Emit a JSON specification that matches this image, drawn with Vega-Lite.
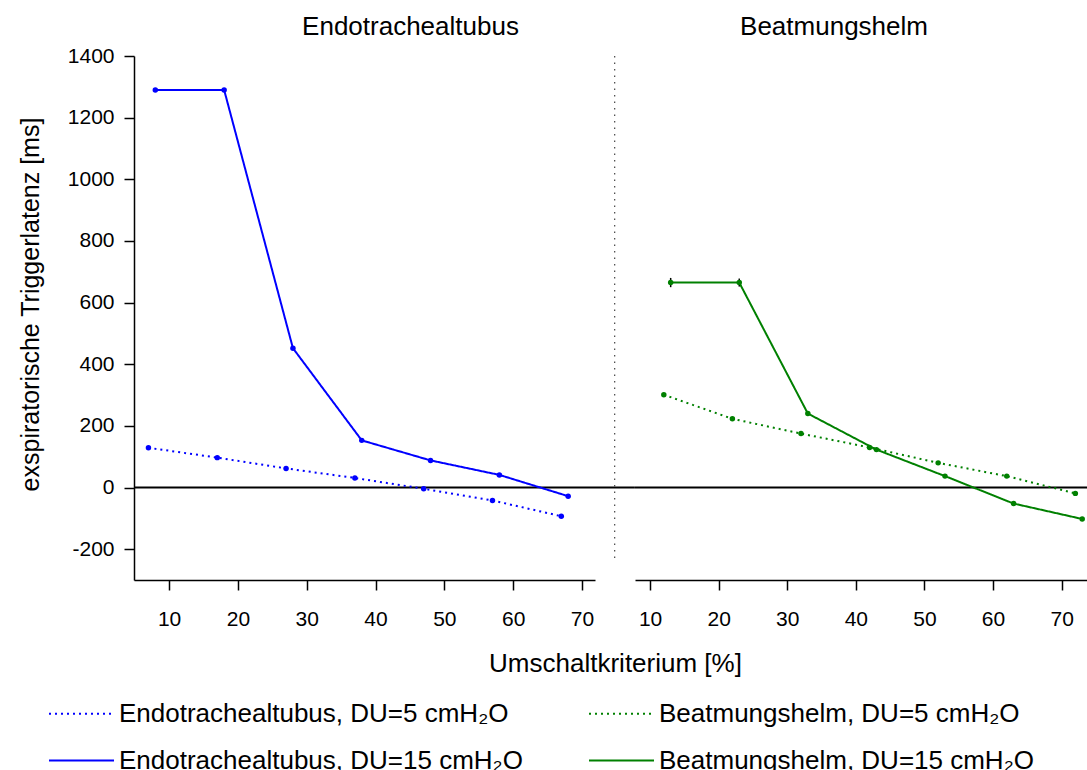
{
  "$schema": "https://vega.github.io/schema/vega-lite/v6.json",
  "background": "white",
  "padding": {"left": 17, "top": 14, "right": 0, "bottom": 0},
  "autosize": {"type": "pad"},
  "bounds": "flush",
  "spacing": 40,
  "resolve": {"scale": {"color": "shared", "strokeDash": "shared"}, "legend": {"color": "shared", "strokeDash": "shared"}},
  "config": {
    "view": {"stroke": null},
    "font": "Liberation Sans",
    "axis": {
      "grid": false,
      "domainColor": "black",
      "domainWidth": 1.5,
      "tickColor": "black",
      "tickWidth": 1.5,
      "tickSize": 10,
      "labelFont": "Liberation Sans",
      "labelFontSize": 21,
      "labelColor": "black",
      "titleFont": "Liberation Sans",
      "titleFontSize": 26,
      "titleFontWeight": "normal",
      "titleColor": "black"
    },
    "title": {"font": "Liberation Sans", "fontSize": 26, "fontWeight": "normal", "color": "black", "anchor": "middle"},
    "legend": {"labelFont": "Liberation Sans", "labelFontSize": 26, "labelColor": "black", "labelLimit": 700}
  },
  "data": {
    "values": [
      {"tube": "Endotrachealtubus", "DU": "15", "series": "Endotrachealtubus, DU=15 cmH₂O", "x": 8, "y": 1290},
      {"tube": "Endotrachealtubus", "DU": "15", "series": "Endotrachealtubus, DU=15 cmH₂O", "x": 18, "y": 1290},
      {"tube": "Endotrachealtubus", "DU": "15", "series": "Endotrachealtubus, DU=15 cmH₂O", "x": 28, "y": 452},
      {"tube": "Endotrachealtubus", "DU": "15", "series": "Endotrachealtubus, DU=15 cmH₂O", "x": 38, "y": 153},
      {"tube": "Endotrachealtubus", "DU": "15", "series": "Endotrachealtubus, DU=15 cmH₂O", "x": 48, "y": 88},
      {"tube": "Endotrachealtubus", "DU": "15", "series": "Endotrachealtubus, DU=15 cmH₂O", "x": 58, "y": 41},
      {"tube": "Endotrachealtubus", "DU": "15", "series": "Endotrachealtubus, DU=15 cmH₂O", "x": 68, "y": -28},
      {"tube": "Endotrachealtubus", "DU": "5", "series": "Endotrachealtubus, DU=5 cmH₂O", "x": 7, "y": 129},
      {"tube": "Endotrachealtubus", "DU": "5", "series": "Endotrachealtubus, DU=5 cmH₂O", "x": 17, "y": 97},
      {"tube": "Endotrachealtubus", "DU": "5", "series": "Endotrachealtubus, DU=5 cmH₂O", "x": 27, "y": 62},
      {"tube": "Endotrachealtubus", "DU": "5", "series": "Endotrachealtubus, DU=5 cmH₂O", "x": 37, "y": 31},
      {"tube": "Endotrachealtubus", "DU": "5", "series": "Endotrachealtubus, DU=5 cmH₂O", "x": 47, "y": -4},
      {"tube": "Endotrachealtubus", "DU": "5", "series": "Endotrachealtubus, DU=5 cmH₂O", "x": 57, "y": -42},
      {"tube": "Endotrachealtubus", "DU": "5", "series": "Endotrachealtubus, DU=5 cmH₂O", "x": 67, "y": -93},
      {"tube": "Beatmungshelm", "DU": "15", "series": "Beatmungshelm, DU=15 cmH₂O", "x": 13, "y": 665, "lo": 650, "hi": 680},
      {"tube": "Beatmungshelm", "DU": "15", "series": "Beatmungshelm, DU=15 cmH₂O", "x": 23, "y": 665, "lo": 652, "hi": 678},
      {"tube": "Beatmungshelm", "DU": "15", "series": "Beatmungshelm, DU=15 cmH₂O", "x": 33, "y": 240},
      {"tube": "Beatmungshelm", "DU": "15", "series": "Beatmungshelm, DU=15 cmH₂O", "x": 43, "y": 123},
      {"tube": "Beatmungshelm", "DU": "15", "series": "Beatmungshelm, DU=15 cmH₂O", "x": 53, "y": 37},
      {"tube": "Beatmungshelm", "DU": "15", "series": "Beatmungshelm, DU=15 cmH₂O", "x": 63, "y": -52},
      {"tube": "Beatmungshelm", "DU": "15", "series": "Beatmungshelm, DU=15 cmH₂O", "x": 73, "y": -102},
      {"tube": "Beatmungshelm", "DU": "5", "series": "Beatmungshelm, DU=5 cmH₂O", "x": 12, "y": 301},
      {"tube": "Beatmungshelm", "DU": "5", "series": "Beatmungshelm, DU=5 cmH₂O", "x": 22, "y": 223},
      {"tube": "Beatmungshelm", "DU": "5", "series": "Beatmungshelm, DU=5 cmH₂O", "x": 32, "y": 175},
      {"tube": "Beatmungshelm", "DU": "5", "series": "Beatmungshelm, DU=5 cmH₂O", "x": 42, "y": 130},
      {"tube": "Beatmungshelm", "DU": "5", "series": "Beatmungshelm, DU=5 cmH₂O", "x": 52, "y": 80},
      {"tube": "Beatmungshelm", "DU": "5", "series": "Beatmungshelm, DU=5 cmH₂O", "x": 62, "y": 37},
      {"tube": "Beatmungshelm", "DU": "5", "series": "Beatmungshelm, DU=5 cmH₂O", "x": 72, "y": -19}
    ]
  },
  "hconcat": [
    {
      "width": 461,
      "height": 524,
      "title": {"text": "Endotrachealtubus", "dx": 46, "offset": 5},
      "layer": [
        {
          "data": {"values": [{"zero": 0, "from": 4.9, "to": 77.7}]},
          "mark": {"type": "rule", "color": "black", "strokeWidth": 2},
          "encoding": {
            "x": {"field": "from", "type": "quantitative"},
            "x2": {"field": "to"},
            "y": {"field": "zero", "type": "quantitative"}
          }
        },
        {
          "data": {"values": [{"sep": 74.76, "top": 1400, "bottom": -235}]},
          "mark": {"type": "rule", "color": "#444444", "strokeWidth": 1.2, "strokeDash": [1.5, 5]},
          "encoding": {
            "x": {"field": "sep", "type": "quantitative"},
            "y": {"field": "top", "type": "quantitative"},
            "y2": {"field": "bottom"}
          }
        },
        {
          "transform": [{"filter": "datum.tube === 'Endotrachealtubus'"}],
          "mark": {"type": "line", "strokeWidth": 2},
          "encoding": {
            "x": {
              "field": "x", "type": "quantitative",
              "scale": {"domain": [4.9, 71.9], "nice": false, "zero": false},
              "axis": {
                "values": [10, 20, 30, 40, 50, 60, 70],
                "labelExpr": "'' + datum.value",
                "title": "Umschaltkriterium [%]",
                "titleX": 481,
                "titleY": 83,
                "titleAlign": "center",
                "titleBaseline": "middle",
                "labelPadding": 18
              }
            },
            "y": {
              "field": "y", "type": "quantitative",
              "scale": {"domain": [-300, 1400], "nice": false, "zero": false},
              "axis": {
                "values": [-200, 0, 200, 400, 600, 800, 1000, 1200, 1400],
                "labelExpr": "'' + datum.value",
                "title": "exspiratorische Triggerlatenz [ms]",
                "titleFontSize": 25,
                "titleAngle": -90,
                "titleX": -104,
                "titleY": 248,
                "titleAlign": "center",
                "titleBaseline": "middle",
                "labelPadding": 10
              }
            },
            "color": {
              "field": "series", "type": "nominal",
              "scale": {
                "domain": ["Endotrachealtubus, DU=5 cmH₂O", "Endotrachealtubus, DU=15 cmH₂O", "Beatmungshelm, DU=5 cmH₂O", "Beatmungshelm, DU=15 cmH₂O"],
                "range": ["#0000ff", "#0000ff", "#008000", "#008000"]
              },
              "legend": {
                "title": null,
                "orient": "none",
                "legendX": -86,
                "legendY": 624,
                "columns": 2,
                "symbolType": "stroke",
                "symbolSize": 4225,
                "symbolStrokeWidth": 2,
                "labelOffset": 4,
                "columnPadding": 62,
                "rowPadding": -8
              }
            },
            "strokeDash": {
              "field": "series", "type": "nominal",
              "scale": {
                "domain": ["Endotrachealtubus, DU=5 cmH₂O", "Endotrachealtubus, DU=15 cmH₂O", "Beatmungshelm, DU=5 cmH₂O", "Beatmungshelm, DU=15 cmH₂O"],
                "range": [[2, 4], [1, 0], [2, 4], [1, 0]]
              },
              "legend": {
                "title": null,
                "orient": "none",
                "legendX": -86,
                "legendY": 624,
                "columns": 2,
                "symbolType": "stroke",
                "symbolSize": 4225,
                "symbolStrokeWidth": 2,
                "labelOffset": 4,
                "columnPadding": 62,
                "rowPadding": -8
              }
            }
          }
        },
        {
          "transform": [{"filter": "datum.tube === 'Endotrachealtubus'"}],
          "mark": {"type": "point", "filled": true, "size": 30, "opacity": 1},
          "encoding": {
            "x": {"field": "x", "type": "quantitative"},
            "y": {"field": "y", "type": "quantitative"},
            "color": {"field": "series", "type": "nominal"}
          }
        }
      ]
    },
    {
      "width": 452,
      "height": 524,
      "title": {"text": "Beatmungshelm", "dx": -27, "offset": 16},
      "layer": [
        {
          "data": {"values": [{"zero": 0}]},
          "mark": {"type": "rule", "color": "black", "strokeWidth": 2},
          "encoding": {
            "y": {"field": "zero", "type": "quantitative", "axis": null}
          }
        },
        {
          "transform": [{"filter": "datum.tube === 'Beatmungshelm'"}],
          "mark": {"type": "line", "strokeWidth": 2},
          "encoding": {
            "x": {
              "field": "x", "type": "quantitative",
              "scale": {"domain": [7.8, 73.7], "nice": false, "zero": false},
              "axis": {
                "values": [10, 20, 30, 40, 50, 60, 70],
                "labelExpr": "'' + datum.value",
                "title": null,
                "labelPadding": 18
              }
            },
            "y": {
              "field": "y", "type": "quantitative",
              "scale": {"domain": [-300, 1400], "nice": false, "zero": false},
              "axis": null
            },
            "color": {"field": "series", "type": "nominal"},
            "strokeDash": {"field": "series", "type": "nominal"}
          }
        },
        {
          "transform": [{"filter": "datum.tube === 'Beatmungshelm'"}],
          "mark": {"type": "rule", "color": "black", "strokeWidth": 1.5},
          "encoding": {
            "x": {"field": "x", "type": "quantitative"},
            "y": {"field": "lo", "type": "quantitative", "axis": null},
            "y2": {"field": "hi"}
          }
        },
        {
          "transform": [{"filter": "datum.tube === 'Beatmungshelm'"}],
          "mark": {"type": "point", "filled": true, "size": 30, "opacity": 1},
          "encoding": {
            "x": {"field": "x", "type": "quantitative"},
            "y": {"field": "y", "type": "quantitative", "axis": null},
            "color": {"field": "series", "type": "nominal"}
          }
        }
      ]
    }
  ]
}
